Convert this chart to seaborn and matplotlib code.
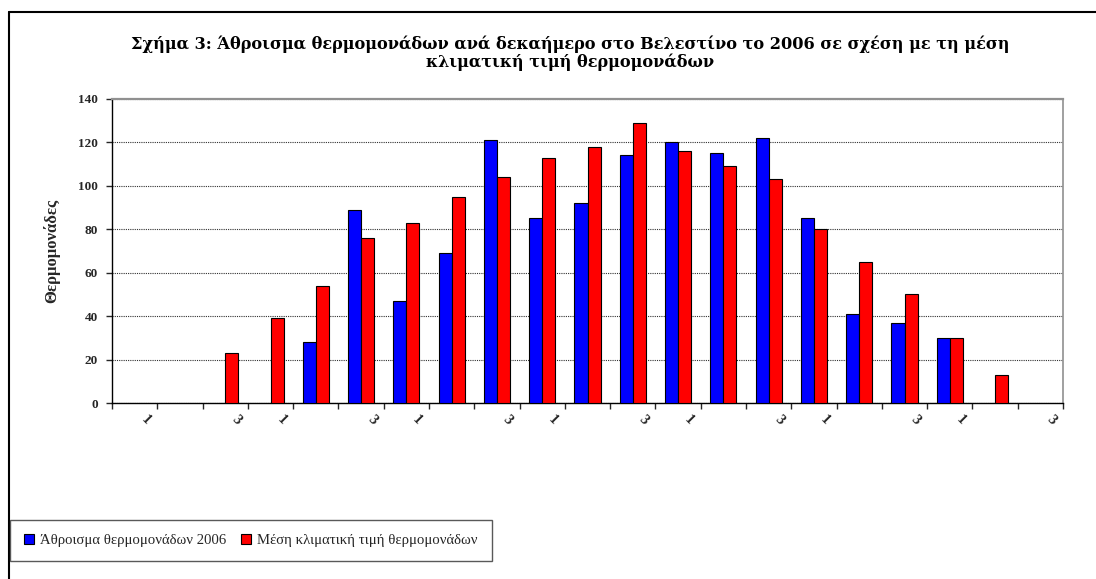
import numpy as np
import pandas as pd
import matplotlib
matplotlib.use("Agg")
import matplotlib.pyplot as plt
from matplotlib.lines import Line2D
from matplotlib import transforms
import seaborn as sns


# Data (dekads, 7 months x 3 dekads)
DEKADS = list(range(21))
TICK_LABELS = ["1", "", "3"] * 7
SUM_2006 = [np.nan, np.nan, np.nan, np.nan, 28, 89, 47, 69, 121, 85, 92,
            114, 120, 115, 122, 85, 41, 37, 30, np.nan, np.nan]
CLIMATE_MEAN = [np.nan, np.nan, 23, 39, 54, 76, 83, 95, 104, 113, 118,
                129, 116, 109, 103, 80, 65, 50, 30, 13, np.nan]

SERIES_2006 = "Άθροισμα θερμομονάδων 2006"
SERIES_MEAN = "Μέση κλιματική τιμή θερμομονάδων"
TITLE = ("Σχήμα 3: Άθροισμα θερμομονάδων ανά δεκαήμερο στο Βελεστίνο το 2006 "
         "σε σχέση με τη μέση\nκλιματική τιμή θερμομονάδων")
YLABEL = "Θερμομονάδες"


# Long form table for seaborn
df = pd.concat([
    pd.DataFrame({"dekad": DEKADS, "value": SUM_2006, "series": SERIES_2006}),
    pd.DataFrame({"dekad": DEKADS, "value": CLIMATE_MEAN, "series": SERIES_MEAN}),
]).dropna(subset=["value"])


sns.set_style("white")
plt.rcParams["font.family"] = ["Liberation Serif", "DejaVu Serif"]

fig = plt.figure(figsize=(10.96, 5.79), dpi=100)
ax = fig.add_axes([112 / 1096, 1 - 403 / 579, 951 / 1096, 304 / 579])

sns.barplot(data=df, x="dekad", y="value", hue="series", order=DEKADS,
            hue_order=[SERIES_2006, SERIES_MEAN],
            palette=["#0000FF", "#FF0000"], saturation=1, width=0.58, gap=0,
            errorbar=None, edgecolor="black", linewidth=0.8, ax=ax,
            zorder=3)

# Axes styling
ax.set_xlim(-0.5, 20.5)
ax.set_ylim(0, 140)
ax.set_yticks(range(0, 141, 20))
ax.yaxis.grid(True, linestyle=(0, (1, 1)), color="#303030", linewidth=0.8, zorder=0)
ax.set_axisbelow(True)
for side in ["left", "bottom"]:
    ax.spines[side].set_color("black")
    ax.spines[side].set_linewidth(1.0)
ax.spines["top"].set_color("#909090")
ax.spines["top"].set_linewidth(1.6)
ax.spines["right"].set_color("#909090")
ax.spines["right"].set_linewidth(1.2)

ax.tick_params(axis="y", which="major", direction="out", length=4, width=1,
               left=True, labelsize=9.5, pad=6)
for lab in ax.get_yticklabels():
    lab.set_fontweight("bold")

ax.set_xticks(DEKADS)
ax.set_xticklabels(TICK_LABELS, rotation=-45, fontsize=10.5, fontweight="bold",
                   ha="center", va="center")
ax.set_xticks(np.arange(-0.5, 21, 1), minor=True)
ax.tick_params(axis="x", which="major", length=0, pad=12)
ax.tick_params(axis="x", which="minor", direction="out", length=4, width=1,
               bottom=True)
offset = transforms.ScaledTranslation(11 / 100, 0, fig.dpi_scale_trans)
for lab in ax.get_xticklabels():
    lab.set_transform(lab.get_transform() + offset)

ax.set_xlabel("")
ax.set_ylabel(YLABEL, fontsize=12, fontweight="bold")
ax.yaxis.set_label_coords(-52 / 951, 0.5)

# Legend in its own box at the bottom left
handles, labels = ax.get_legend_handles_labels()
if ax.legend_:
    ax.legend_.remove()
leg = fig.legend(handles, labels, loc="lower left",
                 bbox_to_anchor=(10 / 1096, 1 - 561 / 579), ncol=2,
                 fontsize=10.6, frameon=True, fancybox=False, edgecolor="#303030",
                 handlelength=0.7, handleheight=0.7, handletextpad=0.4,
                 columnspacing=1.0, borderpad=0.95, borderaxespad=0)
leg.get_frame().set_linewidth(1.0)

# Title
fig.text(0.52, 1 - 35 / 579, TITLE, ha="center", va="top", fontsize=11.6,
         fontweight="bold", linespacing=1.1, color="black",
         family=["DejaVu Serif"])

# Outer chart border (only top and left visible)
fig.add_artist(Line2D([9 / 1096, 9 / 1096], [0, 1 - 12 / 579], color="black",
                      linewidth=1.5, transform=fig.transFigure))
fig.add_artist(Line2D([9 / 1096, 1], [1 - 12 / 579, 1 - 12 / 579], color="black",
                      linewidth=1.5, transform=fig.transFigure))

fig.savefig("out.png", dpi=100, facecolor="white")
